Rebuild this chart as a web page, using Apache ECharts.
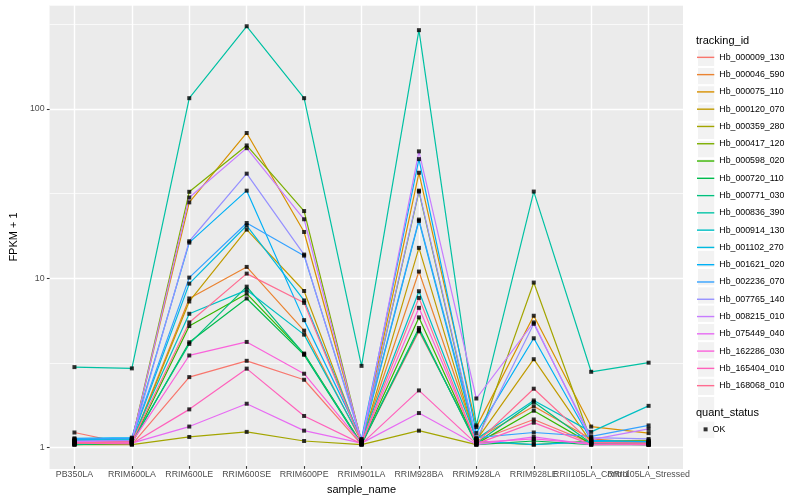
<!DOCTYPE html>
<html><head><meta charset="utf-8">
<script src="https://cdn.jsdelivr.net/npm/echarts@6/dist/echarts.min.js"></script>
<style>html,body{margin:0;padding:0;background:#fff}#c{width:800px;height:500px}</style>
</head><body><div id="c"></div>
<script>
const categories = ['PB350LA','RRIM600LA','RRIM600LE','RRIM600SE','RRIM600PE','RRIM901LA','RRIM928BA','RRIM928LA','RRIM928LE','RRII105LA_Control','RRII105LA_Stressed'];
const trackingIds = ['Hb_000009_130','Hb_000046_590','Hb_000075_110','Hb_000120_070','Hb_000359_280','Hb_000417_120','Hb_000598_020','Hb_000720_110','Hb_000771_030','Hb_000836_390','Hb_000914_130','Hb_001102_270','Hb_001621_020','Hb_002236_070','Hb_007765_140','Hb_008215_010','Hb_075449_040','Hb_162286_030','Hb_165404_010','Hb_168068_010'];
const colors = ['#F8766D','#EA8331','#D89000','#C09B00','#A3A500','#7CAE00','#39B600','#00BB4E','#00BF7D','#00C1A3','#00BFC4','#00BAE0','#00B0F6','#35A2FF','#9590FF','#C77CFF','#E76BF3','#FA62DB','#FF62BC','#FF6C91'];
const yTicks = [1, 10, 100];
const quantStatus = ['OK'];

// FPKM + 1 per sample (order of categories)
const Hb_000009_130 = [1.18, 1.00, 2.52, 3.15, 2.43, 1.00, 4.72, 1.05, 1.41, 1.02, 1.00];
const Hb_000046_590 = [1.05, 1.03, 7.40, 11.4, 4.76, 1.04, 10.7, 1.08, 1.69, 1.08, 1.02];
const Hb_000075_110 = [1.04, 1.06, 27.6, 71.4, 18.4, 1.05, 41.4, 1.27, 5.84, 1.28, 1.17];
const Hb_000120_070 = [1.01, 1.02, 7.10, 19.0, 8.20, 1.02, 14.8, 1.06, 3.22, 1.03, 1.02];
const Hb_000359_280 = [1.00, 1.00, 1.11, 1.19, 1.05, 1.00, 1.21, 1.00, 9.20, 1.05, 1.06];
const Hb_000417_120 = [1.02, 1.05, 31.9, 60.2, 24.5, 1.03, 32.0, 1.04, 1.00, 1.05, 1.05];
const Hb_000598_020 = [1.01, 1.01, 5.07, 7.90, 3.48, 1.01, 5.71, 1.01, 1.59, 1.01, 1.00];
const Hb_000720_110 = [1.00, 1.02, 4.06, 7.40, 3.42, 1.00, 4.94, 1.00, 1.05, 1.00, 1.00];
const Hb_000771_030 = [1.00, 1.04, 3.97, 8.70, 3.45, 1.01, 4.82, 1.02, 1.79, 1.02, 1.01];
const Hb_000836_390 = [2.89, 2.84, 115, 308, 115, 2.94, 292, 1.30, 32.0, 2.71, 3.07];
const Hb_000914_130 = [1.06, 1.07, 6.00, 8.30, 4.51, 1.06, 8.17, 1.08, 1.83, 1.19, 1.70];
const Hb_001102_270 = [1.07, 1.08, 9.07, 20.1, 7.20, 1.05, 21.4, 1.05, 1.00, 1.04, 1.03];
const Hb_001621_020 = [1.09, 1.10, 15.9, 32.4, 5.50, 1.08, 49.9, 1.17, 4.29, 1.06, 1.04];
const Hb_002236_070 = [1.08, 1.09, 9.85, 20.8, 13.3, 1.07, 21.8, 1.10, 1.18, 1.12, 1.30];
const Hb_007765_140 = [1.05, 1.06, 16.2, 40.9, 13.5, 1.04, 32.4, 1.07, 5.23, 1.10, 1.08];
const Hb_008215_010 = [1.04, 1.05, 29.5, 58.0, 21.9, 1.03, 55.5, 1.88, 5.33, 1.07, 1.24];
const Hb_075449_040 = [1.03, 1.02, 1.28, 1.75, 1.21, 1.02, 1.54, 1.00, 1.11, 1.00, 1.00];
const Hb_162286_030 = [1.03, 1.03, 3.39, 4.08, 2.64, 1.02, 6.51, 1.03, 1.08, 1.01, 1.00];
const Hb_165404_010 = [1.02, 1.01, 1.62, 2.83, 1.48, 1.01, 2.10, 1.01, 1.35, 1.00, 1.01];
const Hb_168068_010 = [1.02, 1.04, 5.33, 10.4, 6.97, 1.03, 7.46, 1.02, 2.15, 1.03, 1.02];

const seriesValues = [Hb_000009_130, Hb_000046_590, Hb_000075_110, Hb_000120_070, Hb_000359_280,
  Hb_000417_120, Hb_000598_020, Hb_000720_110, Hb_000771_030, Hb_000836_390, Hb_000914_130,
  Hb_001102_270, Hb_001621_020, Hb_002236_070, Hb_007765_140, Hb_008215_010, Hb_075449_040,
  Hb_162286_030, Hb_165404_010, Hb_168068_010];

const FONT = '"Liberation Sans", Arial, Helvetica, sans-serif';
const yMin = Math.pow(10, -0.128), yMax = Math.pow(10, 2.615);

const lineSeries = trackingIds.map((id, i) => ({
  type: 'line', name: id, xAxisIndex: 1, yAxisIndex: 2,
  data: seriesValues[i], color: colors[i], symbol: 'none', showSymbol: false,
  lineStyle: { width: 1.2, color: colors[i] }, z: 2, silent: true, animation: false
}));
const pointData = [];
seriesValues.forEach(vals => vals.forEach((v, j) => pointData.push([j, v])));
const pointSeries = {
  type: 'scatter', name: quantStatus[0], xAxisIndex: 1, yAxisIndex: 2,
  data: pointData, symbol: 'rect', symbolSize: 4, itemStyle: { color: '#000' },
  z: 3, silent: true, animation: false
};

const keyTop = 48.7, keySize = 17.28;
const option = {
  animation: false,
  backgroundColor: '#ffffff',
  title: [
    { text: 'tracking_id', left: 696, top: 35.2, padding: 0, textStyle: { fontSize: 11, fontWeight: 'normal', color: '#000', fontFamily: FONT } },
    { text: 'quant_status', left: 696, top: 407.2, padding: 0, textStyle: { fontSize: 11, fontWeight: 'normal', color: '#000', fontFamily: FONT } }
  ],
  grid: [
    { left: 40, right: 117, top: 5, bottom: 31, show: true, backgroundColor: '#EBEBEB', borderWidth: 0, containLabel: false },
    { left: 45.74, right: 122.7, top: 5, bottom: 31, show: false, containLabel: false }
  ],
  legend: [
    { data: trackingIds, orient: 'vertical', left: 697, top: keyTop, padding: 0, itemGap: 0,
      itemWidth: keySize, itemHeight: keySize, icon: 'rect', selectedMode: false, z: 3,
      itemStyle: { color: '#F2F2F2', borderColor: '#FFFFFF', borderWidth: 1 },
      formatter: () => '', textStyle: { fontSize: 8.8, lineHeight: keySize } },
    { data: trackingIds, orient: 'vertical', left: 697, top: keyTop, padding: 0, itemGap: 0,
      itemWidth: keySize, itemHeight: keySize, icon: 'path://M0,0H172V14H0Z', selectedMode: false, z: 4,
      itemStyle: { borderWidth: 0 }, itemTextGap: 2.5,
      textStyle: { fontSize: 8.8, lineHeight: keySize, color: '#000', fontFamily: FONT } },
    { data: quantStatus, orient: 'vertical', left: 697, top: 420.7, padding: 0,
      itemWidth: keySize, itemHeight: keySize, icon: 'rect', selectedMode: false, z: 3,
      itemStyle: { color: '#F2F2F2', borderColor: '#FFFFFF', borderWidth: 1 },
      formatter: () => '', textStyle: { fontSize: 8.8, lineHeight: keySize } },
    { data: quantStatus, orient: 'vertical', left: 703.6, top: 420.7, padding: 0,
      itemWidth: 4, itemHeight: 4, icon: 'rect', selectedMode: false, z: 4,
      itemStyle: { color: '#000', borderWidth: 0 }, itemTextGap: 9,
      textStyle: { fontSize: 8.8, lineHeight: keySize, color: '#000', fontFamily: FONT } }
  ],
  xAxis: [
    { type: 'value', gridIndex: 0, min: 0, max: 1, show: false },
    { type: 'category', gridIndex: 1, data: categories, boundaryGap: true,
      axisLine: { show: false },
      axisTick: { show: true, alignWithLabel: true, length: 2.7, lineStyle: { color: '#333333', width: 1.07 } },
      axisLabel: { interval: 0, hideOverlap: false, color: '#4D4D4D', fontSize: 8.8, fontFamily: FONT, margin: 4 },
      splitLine: { show: true, alignWithLabel: true, interval: 0, lineStyle: { color: '#FFFFFF', width: 1.4 } },
      name: 'sample_name', nameLocation: 'middle', nameGap: 13.5,
      nameTextStyle: { fontSize: 11, color: '#000', fontFamily: FONT } }
  ],
  yAxis: [
    { type: 'log', logBase: 10, gridIndex: 0, min: yMin, max: yMax,
      axisLine: { show: false },
      axisTick: { show: true, customValues: yTicks, length: 2.7, lineStyle: { color: '#333333', width: 1.07 } },
      axisLabel: { customValues: yTicks, color: '#4D4D4D', fontSize: 8.8, fontFamily: FONT, margin: 5 },
      splitLine: { show: true, lineStyle: { color: '#FFFFFF', width: 1.4 } },
      minorTick: { show: false }, minorSplitLine: { show: false },
      name: 'FPKM + 1', nameLocation: 'middle', nameGap: 22,
      nameTextStyle: { fontSize: 11, color: '#000', fontFamily: FONT } },
    { type: 'log', logBase: Math.sqrt(10), gridIndex: 0, min: yMin, max: yMax,
      axisLine: { show: false }, axisTick: { show: false }, axisLabel: { show: false },
      splitLine: { show: true, lineStyle: { color: '#FFFFFF', width: 0.7 } } },
    { type: 'log', logBase: 10, gridIndex: 1, min: yMin, max: yMax, show: false,
      splitLine: { show: false } }
  ],
  series: lineSeries.concat([pointSeries])
};
const chart = echarts.init(document.getElementById('c'), null, { renderer: 'canvas' });
chart.setOption(option);
</script>
</body></html>
